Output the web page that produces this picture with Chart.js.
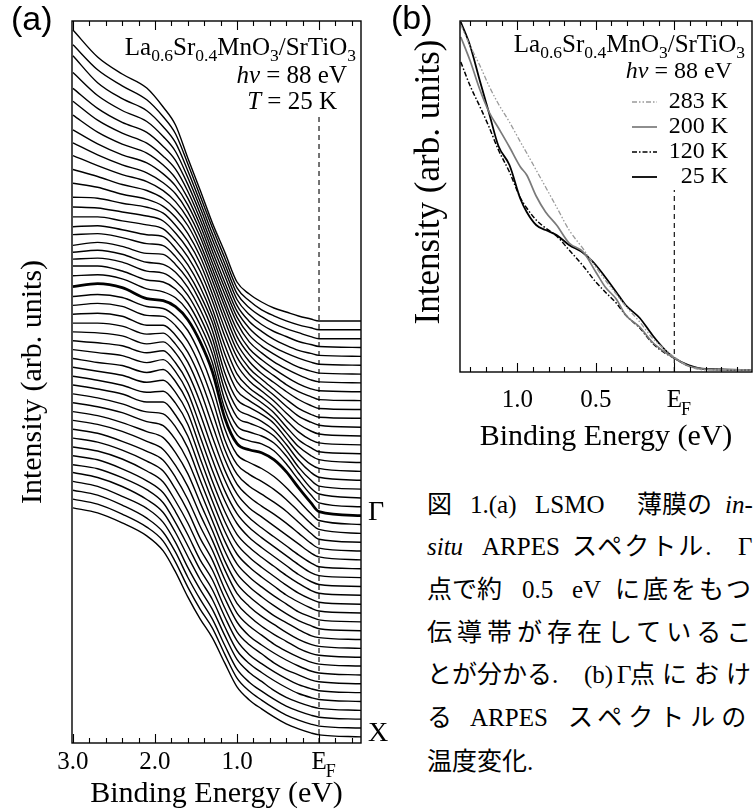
<!DOCTYPE html>
<html lang="ja">
<head>
<meta charset="utf-8">
<title>LSMO ARPES</title>
<script src="https://cdn.jsdelivr.net/npm/chart.js@4.4.1/dist/chart.umd.min.js"></script>
<style>
  body { margin:0; width:755px; height:809px; overflow:hidden; background:#fff; position:relative;
         font-family:"Liberation Serif","Noto Sans CJK JP",serif; color:#000; }
  canvas { position:absolute; top:0; }
  #chartA { left:0; }
  #chartB { left:380px; }
  .tag { position:absolute; font-family:"Liberation Sans",Arial,sans-serif; font-size:34px; line-height:34px; }
  .cap { position:absolute; font-size:25px; line-height:30px; white-space:nowrap; }
</style>
</head>
<body>
<canvas id="chartA" width="400" height="809"></canvas>
<canvas id="chartB" width="375" height="460"></canvas>
<div class="tag" style="left:11px;top:1px">(a)</div>
<div class="tag" style="left:391px;top:0px">(b)</div>

<span class="cap" style="left:427px;top:490px">図</span>
<span class="cap" style="left:470px;top:490px">1.(a)</span>
<span class="cap" style="left:535px;top:490px">LSMO</span>
<span class="cap" style="left:637px;top:490px">薄膜の</span>
<span class="cap" style="left:725px;top:490px"><i>in</i>-</span>

<span class="cap" style="left:427px;top:532px"><i>situ</i></span>
<span class="cap" style="left:482px;top:532px">ARPES</span>
<span class="cap" style="left:572px;top:532px;letter-spacing:2px">スペクトル.</span>
<span class="cap" style="left:738px;top:532px">Γ</span>

<span class="cap" style="left:427px;top:575px">点で約</span>
<span class="cap" style="left:522px;top:575px">0.5</span>
<span class="cap" style="left:572px;top:575px">eV</span>
<span class="cap" style="left:615px;top:575px;letter-spacing:3px">に底をもつ</span>

<span class="cap" style="left:427px;top:618px;letter-spacing:5px">伝導帯が存在しているこ</span>

<span class="cap" style="left:427px;top:660px">とが分かる.</span>
<span class="cap" style="left:584px;top:660px">(b)</span>
<span class="cap" style="left:617px;top:660px">Γ</span>
<span class="cap" style="left:630px;top:660px;letter-spacing:7px">点におけ</span>

<span class="cap" style="left:427px;top:703px">る</span>
<span class="cap" style="left:470px;top:703px">ARPES</span>
<span class="cap" style="left:568px;top:703px;letter-spacing:6px">スペクトルの</span>

<span class="cap" style="left:427px;top:747px">温度変化.</span>

<script>
const serif = '"Liberation Serif", "Times New Roman", serif';

// ---- (a) stacked spectra, top (i=0) to X (i=47), Gamma is i=22
const energyA = [3.0, 2.7, 2.4, 2.1, 1.9, 1.75, 1.6, 1.45, 1.3, 1.15, 1.0, 0.85, 0.7, 0.55, 0.4, 0.25, 0.1, 0.0, -0.52];
const offsetA = [42.20, 41.32, 40.43, 39.55, 38.66, 37.78, 36.89, 36.01, 35.12, 34.24,
                 33.35, 32.47, 31.58, 30.70, 29.81, 28.93, 28.04, 27.16, 26.27, 25.39,
                 24.50, 23.62, 22.73, 21.85, 20.96, 20.08, 19.19, 18.31, 17.42, 16.54,
                 15.65, 14.77, 13.88, 13.00, 12.11, 11.23, 10.34, 9.46, 8.57, 7.69,
                 6.80, 5.92, 5.03, 4.15, 3.26, 2.38, 1.49, 0.61];
const spectraA = [
  [29.1, 26.4, 24.7, 23.3, 21.4, 19.6, 16.3, 13.1, 9.8, 6.9, 3.9, 2.7, 1.9, 1.3, 0.9, 0.5, 0.2, 0.0, 0],
  [28.5, 26.0, 24.4, 23.0, 21.3, 19.6, 16.6, 13.4, 10.2, 7.2, 4.2, 2.9, 2.0, 1.4, 0.9, 0.5, 0.2, 0.0, 0],
  [28.3, 25.6, 24.0, 22.8, 21.2, 19.6, 16.8, 13.7, 10.5, 7.5, 4.5, 3.1, 2.2, 1.5, 1.0, 0.6, 0.2, 0.0, 0],
  [27.5, 25.2, 23.7, 22.6, 21.1, 19.6, 17.0, 14.0, 10.8, 7.8, 4.8, 3.3, 2.3, 1.6, 1.1, 0.6, 0.3, 0.1, 0],
  [26.8, 24.8, 23.4, 22.4, 21.0, 19.6, 17.2, 14.3, 11.1, 8.1, 5.1, 3.5, 2.5, 1.7, 1.1, 0.6, 0.3, 0.1, 0],
  [26.4, 24.5, 23.2, 22.2, 20.9, 19.6, 17.4, 14.6, 11.4, 8.3, 5.4, 3.7, 2.6, 1.8, 1.2, 0.7, 0.3, 0.1, 0],
  [25.9, 24.2, 23.0, 22.1, 20.9, 19.6, 17.6, 14.9, 11.7, 8.6, 5.7, 3.9, 2.8, 2.0, 1.3, 0.7, 0.3, 0.1, 0],
  [25.3, 23.9, 22.8, 22.0, 20.9, 19.7, 17.8, 15.2, 12.0, 8.9, 6.0, 4.1, 3.0, 2.1, 1.4, 0.8, 0.3, 0.1, 0],
  [24.9, 23.7, 22.7, 21.9, 20.9, 19.8, 18.0, 15.5, 12.3, 9.1, 6.2, 4.3, 3.2, 2.3, 1.5, 0.8, 0.3, 0.1, 0],
  [24.5, 23.5, 22.6, 21.9, 21.0, 19.9, 18.2, 15.7, 12.6, 9.4, 6.4, 4.6, 3.4, 2.5, 1.6, 0.9, 0.4, 0.1, 0],
  [24.0, 23.3, 22.5, 21.9, 21.1, 20.0, 18.4, 16.0, 12.9, 9.6, 6.6, 4.8, 3.6, 2.7, 1.8, 1.0, 0.4, 0.1, 0],
  [23.5, 23.1, 22.4, 21.9, 21.2, 20.1, 18.5, 16.2, 13.1, 9.8, 6.8, 5.0, 3.9, 2.9, 1.9, 1.0, 0.4, 0.1, 0],
  [23.0, 22.9, 22.4, 22.0, 21.4, 20.2, 18.6, 16.4, 13.3, 9.9, 7.0, 5.3, 4.2, 3.2, 2.1, 1.1, 0.5, 0.2, 0],
  [22.9, 22.8, 22.4, 22.0, 21.5, 20.3, 18.7, 16.5, 13.5, 10.0, 7.1, 5.5, 4.5, 3.5, 2.3, 1.2, 0.5, 0.2, 0],
  [22.8, 22.8, 22.4, 22.0, 21.6, 20.4, 18.8, 16.6, 13.6, 10.0, 7.1, 5.7, 4.8, 3.8, 2.5, 1.3, 0.5, 0.2, 0],
  [22.7, 22.8, 22.4, 21.9, 21.7, 20.5, 18.9, 16.7, 13.8, 10.0, 7.2, 6.0, 5.1, 4.1, 2.7, 1.4, 0.6, 0.2, 0],
  [22.8, 22.9, 22.5, 21.9, 21.7, 20.6, 19.0, 16.8, 14.0, 10.0, 7.2, 6.2, 5.4, 4.4, 3.0, 1.6, 0.7, 0.3, 0],
  [22.6, 22.9, 22.5, 21.8, 21.7, 20.7, 19.2, 17.0, 14.1, 9.9, 7.2, 6.4, 5.7, 4.8, 3.3, 1.8, 0.7, 0.3, 0],
  [22.8, 23.0, 22.6, 21.8, 21.6, 20.8, 19.3, 17.1, 14.2, 9.9, 7.2, 6.5, 5.9, 5.0, 3.6, 2.0, 0.8, 0.3, 0],
  [23.0, 23.1, 22.7, 21.8, 21.6, 20.8, 19.4, 17.2, 14.3, 9.9, 7.2, 6.6, 6.1, 5.3, 3.9, 2.2, 0.9, 0.3, 0],
  [23.2, 23.2, 22.7, 21.8, 21.6, 20.9, 19.5, 17.3, 14.4, 9.8, 7.2, 6.6, 6.2, 5.5, 4.2, 2.5, 1.0, 0.4, 0],
  [23.1, 23.2, 22.8, 21.8, 21.5, 20.9, 19.6, 17.4, 14.4, 9.8, 7.2, 6.6, 6.3, 5.6, 4.3, 2.7, 1.2, 0.4, 0],
  [22.9, 23.2, 22.8, 21.7, 21.5, 20.9, 19.6, 17.4, 14.4, 9.8, 7.2, 6.6, 6.3, 5.6, 4.4, 2.8, 1.3, 0.4, 0],
  [22.8, 23.0, 22.7, 21.8, 21.6, 20.8, 19.4, 17.0, 13.8, 9.6, 7.0, 6.2, 5.6, 4.8, 3.7, 2.4, 1.1, 0.4, 0],
  [22.8, 23.0, 22.7, 21.8, 21.7, 20.8, 19.2, 16.7, 13.4, 9.4, 6.9, 5.9, 5.2, 4.4, 3.4, 2.2, 1.0, 0.4, 0],
  [22.8, 22.9, 22.6, 21.7, 21.7, 20.7, 19.0, 16.4, 13.0, 9.3, 6.8, 5.6, 4.8, 4.0, 3.1, 2.0, 0.9, 0.3, 0],
  [22.8, 22.8, 22.5, 21.7, 21.8, 20.7, 18.9, 16.1, 12.6, 9.2, 6.7, 5.4, 4.5, 3.7, 2.8, 1.8, 0.8, 0.3, 0],
  [22.8, 22.7, 22.4, 21.6, 21.8, 20.7, 18.7, 15.8, 12.3, 9.0, 6.6, 5.2, 4.3, 3.4, 2.5, 1.6, 0.7, 0.3, 0],
  [22.8, 22.6, 22.3, 21.6, 21.8, 20.6, 18.6, 15.5, 12.0, 8.9, 6.5, 5.1, 4.1, 3.2, 2.3, 1.4, 0.6, 0.2, 0],
  [22.8, 22.5, 22.2, 21.5, 21.8, 20.6, 18.5, 15.2, 11.8, 8.7, 6.4, 5.0, 4.0, 3.1, 2.2, 1.3, 0.5, 0.2, 0],
  [22.8, 22.4, 22.1, 21.4, 21.7, 20.5, 18.4, 15.0, 11.6, 8.6, 6.3, 4.9, 3.9, 3.0, 2.1, 1.2, 0.5, 0.2, 0],
  [22.8, 22.4, 22.0, 21.3, 21.5, 20.3, 18.2, 14.8, 11.4, 8.4, 6.1, 4.8, 3.8, 2.9, 2.0, 1.2, 0.5, 0.2, 0],
  [22.8, 22.4, 21.9, 21.2, 21.3, 20.1, 18.0, 14.6, 11.3, 8.3, 6.0, 4.7, 3.7, 2.8, 1.9, 1.1, 0.5, 0.2, 0],
  [22.8, 22.4, 21.9, 21.1, 21.1, 19.8, 17.7, 14.4, 11.2, 8.2, 5.9, 4.6, 3.6, 2.7, 1.8, 1.1, 0.5, 0.2, 0],
  [22.8, 22.4, 21.8, 21.0, 20.8, 19.5, 17.4, 14.2, 11.1, 8.1, 5.8, 4.5, 3.5, 2.6, 1.8, 1.0, 0.5, 0.2, 0],
  [22.8, 22.4, 21.8, 20.9, 20.5, 19.1, 17.0, 14.0, 11.0, 8.0, 5.7, 4.4, 3.4, 2.5, 1.7, 1.0, 0.5, 0.2, 0],
  [22.8, 22.4, 21.7, 20.8, 20.2, 18.7, 16.6, 13.7, 10.9, 7.9, 5.6, 4.3, 3.3, 2.4, 1.7, 1.0, 0.4, 0.2, 0],
  [22.8, 22.4, 21.7, 20.7, 19.9, 18.3, 16.2, 13.4, 10.8, 7.9, 5.5, 4.2, 3.2, 2.4, 1.6, 0.9, 0.4, 0.2, 0],
  [22.8, 22.4, 21.6, 20.6, 19.7, 18.0, 15.8, 13.1, 10.7, 7.8, 5.4, 4.1, 3.1, 2.3, 1.6, 0.9, 0.4, 0.2, 0],
  [22.8, 22.4, 21.6, 20.5, 19.5, 17.7, 15.5, 12.8, 10.6, 7.7, 5.3, 4.0, 3.1, 2.2, 1.5, 0.9, 0.4, 0.2, 0],
  [22.8, 22.4, 21.6, 20.4, 19.3, 17.4, 15.2, 12.6, 10.5, 7.7, 5.3, 3.9, 3.0, 2.2, 1.5, 0.9, 0.4, 0.2, 0],
  [22.8, 22.4, 21.5, 20.3, 19.1, 17.2, 14.9, 12.4, 10.4, 7.6, 5.2, 3.9, 3.0, 2.1, 1.4, 0.9, 0.4, 0.2, 0],
  [22.8, 22.4, 21.5, 20.3, 19.0, 17.0, 14.7, 12.3, 10.3, 7.6, 5.2, 3.8, 2.9, 2.1, 1.4, 0.8, 0.4, 0.2, 0],
  [22.9, 22.4, 21.5, 20.2, 18.9, 16.9, 14.5, 12.2, 10.2, 7.5, 5.1, 3.8, 2.9, 2.1, 1.4, 0.8, 0.4, 0.2, 0],
  [22.9, 22.4, 21.4, 20.2, 18.8, 16.8, 14.3, 12.1, 10.1, 7.5, 5.1, 3.8, 2.9, 2.0, 1.3, 0.8, 0.4, 0.2, 0],
  [22.9, 22.4, 21.4, 20.1, 18.7, 16.7, 14.2, 12.0, 10.0, 7.4, 5.0, 3.7, 2.8, 2.0, 1.3, 0.8, 0.4, 0.2, 0],
  [22.9, 22.4, 21.4, 20.1, 18.7, 16.6, 14.1, 11.9, 10.0, 7.4, 5.0, 3.7, 2.8, 2.0, 1.3, 0.8, 0.4, 0.2, 0],
  [22.9, 22.4, 21.4, 20.1, 18.6, 16.5, 14.0, 11.8, 9.9, 7.4, 5.0, 3.7, 2.8, 2.0, 1.3, 0.8, 0.4, 0.2, 0]
];
const gammaIndex = 22;
const ticksMajorA = [3, 2, 1, 0];
const ticksMinorA = [3.0, 2.8, 2.6, 2.4, 2.2, 2.0, 1.8, 1.6, 1.4, 1.2, 1.0, 0.8, 0.6, 0.4, 0.2, 0.0, -0.2, -0.4];

// ---- (b) Gamma point spectra vs temperature
const energyB = [1.36, 1.3, 1.24, 1.18, 1.12, 1.05, 0.98, 0.94, 0.88, 0.82, 0.75, 0.67, 0.58, 0.5, 0.44, 0.37, 0.31, 0.22, 0.14, 0.07, 0.0, -0.09, -0.2, -0.49];
const t283 = [34.7, 32.6, 30.7, 28.6, 26.8, 25.0, 23.0, 21.9, 20.2, 18.5, 16.5, 14.2, 12.3, 10.5, 9.2, 7.8, 6.6, 5.0, 3.4, 2.4, 1.5, 0.6, 0.2, 0.2];
const t200 = [33.5, 31.1, 28.3, 26.0, 24.4, 22.5, 20.5, 19.7, 17.6, 16.0, 14.7, 12.9, 12.0, 10.0, 8.5, 7.3, 5.7, 4.5, 3.0, 2.1, 1.4, 0.6, 0.3, 0.2];
const t120 = [31.0, 28.6, 26.6, 24.5, 22.2, 20.0, 17.4, 16.4, 15.2, 14.4, 13.6, 12.2, 10.6, 9.0, 8.0, 6.9, 5.7, 4.4, 2.9, 2.0, 1.4, 0.6, 0.3, 0.2];
const t25 = [35.0, 32.6, 29.2, 25.9, 22.6, 20.7, 17.3, 16.0, 14.7, 14.2, 13.7, 12.7, 11.9, 10.7, 9.5, 8.0, 6.7, 5.4, 3.7, 2.4, 1.4, 0.7, 0.3, 0.2];
const tempLabels = ['283 K', '200 K', '120 K', '25 K'];
const ticksMajorB = [1, 0.5, 0];
const ticksMinorB = [1.3, 1.2, 1.1, 1.0, 0.9, 0.8, 0.7, 0.6, 0.5, 0.4, 0.3, 0.2, 0.1, 0.0, -0.1, -0.2, -0.3, -0.4];

// text with subscripts / italics, right aligned at xr
function drawRich(ctx, parts, xr, y, size) {
  const fontOf = st => (st === 'it' ? 'italic ' : '') + (st === 'sub' ? size * 0.7 : size) + 'px ' + serif;
  let w = 0;
  parts.forEach(([t, st]) => { ctx.font = fontOf(st); w += ctx.measureText(t).width; });
  let x = xr - w;
  ctx.textAlign = 'left';
  ctx.textBaseline = 'alphabetic';
  parts.forEach(([t, st]) => {
    ctx.font = fontOf(st);
    ctx.fillText(t, x, st === 'sub' ? y + size * 0.22 : y);
    x += ctx.measureText(t).width;
  });
}

const formula = [['La', ''], ['0.6', 'sub'], ['Sr', ''], ['0.4', 'sub'], ['MnO', ''], ['3', 'sub'], ['/SrTiO', ''], ['3', 'sub']];
const photon = [['hν', 'it'], [' = 88 eV', '']];

const frame = {
  id: 'frame',
  afterDatasetsDraw(chart, args, o) {
    const {ctx, chartArea: a} = chart;
    const x = chart.scales.x;
    ctx.save();
    ctx.strokeStyle = '#000';
    ctx.lineWidth = 1.4;
    ctx.strokeRect(a.left, a.top, a.right - a.left, a.bottom - a.top);
    ctx.lineWidth = 1.1;
    ctx.beginPath();
    o.minor.forEach(v => {
      const px = Math.round(x.getPixelForValue(v)) + 0.5;
      const len = o.major.includes(v) ? 9 : 5;
      ctx.moveTo(px, a.bottom); ctx.lineTo(px, a.bottom - len);
      ctx.moveTo(px, a.top); ctx.lineTo(px, a.top + len);
    });
    ctx.stroke();
    // subscript F of the E_F tick label
    ctx.fillStyle = '#000';
    ctx.font = '25px ' + serif;
    const wE = ctx.measureText('E').width;
    ctx.font = '18px ' + serif;
    ctx.textAlign = 'left';
    ctx.textBaseline = 'alphabetic';
    const mid = x.top + o.tickPad + 12.5;
    ctx.fillText('F', x.getPixelForValue(0) + wE / 2 - 1, mid + 15);
    o.extra(chart, ctx, a);
    ctx.restore();
  }
};

const xTickFont = {family: serif, size: 25, lineHeight: 1};
const titleFont = {family: serif, size: 30, lineHeight: 1};

// ---- chart (a)
const dsA = spectraA.map((row, i) => ({
  data: energyA.map((e, j) => ({x: e, y: offsetA[i] + row[j]})),
  borderColor: '#000',
  borderWidth: i === gammaIndex ? 2.8 : 1.4,
  pointRadius: 0,
  cubicInterpolationMode: 'monotone'
}));
dsA.push({
  data: [{x: 0, y: 0}, {x: 0, y: 62.6}],
  borderColor: '#000', borderWidth: 1.1, borderDash: [5, 4], pointRadius: 0
});

new Chart(document.getElementById('chartA'), {
  type: 'line',
  data: {datasets: dsA},
  options: {
    responsive: false,
    animation: false,
    layout: {padding: {top: 21, right: 39, left: 0, bottom: 0}},
    plugins: {
      legend: {display: false},
      tooltip: {enabled: false},
      frame: {
        minor: ticksMinorA, major: ticksMajorA, tickPad: 6.5,
        extra(chart, ctx, a) {
          ctx.fillStyle = '#000';
          drawRich(ctx, formula, a.right - 5, a.top + 34, 25);
          drawRich(ctx, photon, a.right - 14, a.top + 62, 25);
          drawRich(ctx, [['T', 'it'], [' = 25 K', '']], a.right - 24, a.top + 88, 25);
          const y = chart.scales.y;
          ctx.font = '28px ' + serif;
          ctx.textAlign = 'left';
          ctx.textBaseline = 'middle';
          ctx.fillText('Γ', a.right + 7, y.getPixelForValue(offsetA[gammaIndex]) - 3);
          ctx.fillText('X', a.right + 7, y.getPixelForValue(offsetA[offsetA.length - 1]) - 3);
        }
      }
    },
    scales: {
      x: {
        type: 'linear', reverse: true, min: -0.512, max: 3.012,
        afterBuildTicks: s => { s.ticks = ticksMajorA.map(v => ({value: v})); },
        afterFit: s => { s.height = 66; },
        grid: {display: false, drawTicks: false},
        border: {display: false},
        ticks: {font: xTickFont, color: '#000', padding: 6.5, maxRotation: 0, autoSkip: false,
                callback: v => v === 0 ? 'E' : v.toFixed(1)},
        title: {display: true, text: 'Binding Energy (eV)', font: titleFont, color: '#000', padding: {top: 0, bottom: 0}}
      },
      y: {
        min: 0, max: 72.2,
        afterFit: s => { s.width = 72; },
        grid: {display: false, drawTicks: false},
        border: {display: false},
        ticks: {display: false},
        title: {display: true, text: 'Intensity (arb. units)', font: titleFont, color: '#000', padding: {top: 18, bottom: 0}}
      }
    }
  },
  plugins: [frame]
});

// ---- chart (b)
const styleB = [
  {color: '#9a9a9a', width: 1.3, dash: [5, 2, 1.5, 2, 1.5, 2]},
  {color: '#7a7a7a', width: 1.7, dash: []},
  {color: '#000', width: 1.5, dash: [5, 2, 1.5, 2]},
  {color: '#000', width: 1.8, dash: []}
];
const dsB = [t283, t200, t120, t25].map((vals, k) => ({
  label: tempLabels[k],
  data: energyB.map((e, j) => ({x: e, y: vals[j]})),
  borderColor: styleB[k].color,
  borderWidth: styleB[k].width,
  borderDash: styleB[k].dash,
  pointRadius: 0,
  cubicInterpolationMode: 'monotone'
}));
dsB.push({
  data: [{x: 0, y: 0}, {x: 0, y: 18.2}],
  borderColor: '#000', borderWidth: 1.1, borderDash: [5, 4], pointRadius: 0
});

new Chart(document.getElementById('chartB'), {
  type: 'line',
  data: {datasets: dsB},
  options: {
    responsive: false,
    animation: false,
    layout: {padding: {top: 21, right: 3, left: 0, bottom: 0}},
    plugins: {
      legend: {display: false},
      tooltip: {enabled: false},
      frame: {
        minor: ticksMinorB, major: ticksMajorB, tickPad: 15.5,
        extra(chart, ctx, a) {
          ctx.fillStyle = '#000';
          drawRich(ctx, formula, a.right - 7, a.top + 31, 25);
          drawRich(ctx, photon, a.right - 20, a.top + 57, 24);
          chart.data.datasets.slice(0, 4).forEach((d, k) => {
            const yb = a.top + 87 + k * 25;
            ctx.save();
            ctx.strokeStyle = d.borderColor;
            ctx.lineWidth = d.borderWidth;
            ctx.setLineDash(d.borderDash);
            ctx.beginPath();
            ctx.moveTo(a.right - 120, yb - 6);
            ctx.lineTo(a.right - 95, yb - 6);
            ctx.stroke();
            ctx.restore();
            ctx.font = '24px ' + serif;
            ctx.textAlign = 'right';
            ctx.textBaseline = 'alphabetic';
            ctx.fillText(d.label, a.right - 24, yb);
          });
          // axis title sits a bit above the plot centre and is larger than in (a)
          ctx.save();
          ctx.translate(50, 182);
          ctx.rotate(-Math.PI / 2);
          ctx.font = '35px ' + serif;
          ctx.textAlign = 'center';
          ctx.textBaseline = 'middle';
          ctx.fillText('Intensity (arb. units)', 0, 0);
          ctx.restore();
        }
      }
    },
    scales: {
      x: {
        type: 'linear', reverse: true, min: -0.495, max: 1.365,
        afterBuildTicks: s => { s.ticks = ticksMajorB.map(v => ({value: v})); },
        afterFit: s => { s.height = 88; },
        grid: {display: false, drawTicks: false},
        border: {display: false},
        ticks: {font: xTickFont, color: '#000', padding: 15.5, maxRotation: 0, autoSkip: false,
                callback: v => v === 0 ? 'E' : v.toFixed(1)},
        title: {display: true, text: 'Binding Energy (eV)', font: titleFont, color: '#000', padding: {top: 0, bottom: 8}}
      },
      y: {
        min: 0, max: 35.1,
        afterFit: s => { s.width = 80; },
        grid: {display: false, drawTicks: false},
        border: {display: false},
        ticks: {display: false},
        title: {display: false}
      }
    }
  },
  plugins: [frame]
});
</script>
</body>
</html>
